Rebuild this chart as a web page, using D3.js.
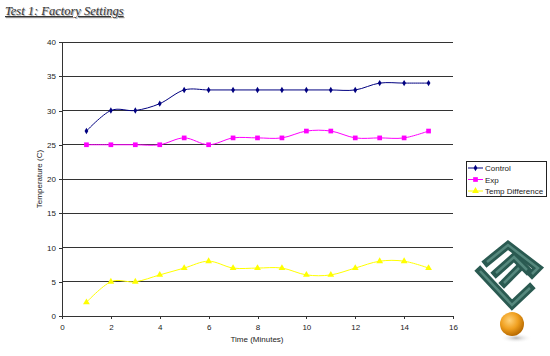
<!DOCTYPE html>
<html><head><meta charset="utf-8">
<script src="https://cdn.jsdelivr.net/npm/d3@7"></script>
<style>body{margin:0;background:#fff}svg{display:block}text{font-family:"Liberation Sans",Arial,sans-serif}</style>
</head><body>
<svg id="c" width="550" height="356"></svg>
<script>
const minutes = [1,2,3,4,5,6,7,8,9,10,11,12,13,14,15];
const control = [27,30,30,31,33,33,33,33,33,33,33,33,34,34,34];
const exp = [25,25,25,25,26,25,26,26,26,27,27,26,26,26,27];
const tempDiff = [2,5,5,6,7,8,7,7,7,6,6,7,8,8,7];
const seriesNames = ["Control","Exp","Temp Difference"];
const xTicks = [0,2,4,6,8,10,12,14,16];
const yTicks = [0,5,10,15,20,25,30,35,40];

const svg = d3.select("#c");
const x = d3.scaleLinear().domain([0,16]).range([62,453]);
const y = d3.scaleLinear().domain([0,40]).range([316,42]);

// title
const title = "Test 1: Factory Settings";
svg.append("text").attr("x",6).attr("y",16).attr("fill","#b0b0b0")
  .style("font-family","'Liberation Serif','Times New Roman',serif").style("font-style","italic").style("font-size","12.5px")
  .style("text-decoration","underline").text(title);
svg.append("text").attr("x",5).attr("y",15).attr("fill","#333")
  .style("font-family","'Liberation Serif','Times New Roman',serif").style("font-style","italic").style("font-size","12.5px")
  .style("text-decoration","underline").text(title);

// gridlines
svg.append("g").selectAll("line").data(yTicks.filter(d=>d>0)).join("line")
  .attr("x1",62).attr("x2",453).attr("y1",d=>y(d)).attr("y2",d=>y(d))
  .attr("stroke","#333").attr("stroke-width",1).attr("shape-rendering","crispEdges");

// axes
const yAxis = d3.axisLeft(y).tickValues(yTicks).tickSize(3).tickPadding(3);
const gy = svg.append("g").attr("transform","translate(62,0)").call(yAxis);
const xAxis = d3.axisBottom(x).tickValues(xTicks).tickSize(3).tickPadding(5);
const gx = svg.append("g").attr("transform","translate(0,316)").call(xAxis);
[gy,gx].forEach(g=>{
  g.selectAll("path,line").attr("stroke","#333").attr("shape-rendering","crispEdges");
  g.selectAll("path").attr("d", g===gy ? "M0,42V316" : "M62,0H453");
  g.selectAll("text").style("font-size","8px").attr("fill","#222").style("font-family","'Liberation Sans',Arial,sans-serif");
});

svg.append("text").attr("transform","translate(42,179) rotate(-90)").attr("text-anchor","middle")
  .style("font-size","8px").attr("fill","#222").text("Temperature (C)");
svg.append("text").attr("x",257).attr("y",342).attr("text-anchor","middle")
  .style("font-size","8px").attr("fill","#222").text("Time (Minutes)");

const series = [
  {name:seriesNames[0], vals:control, color:"#000080", sym:d3.symbolDiamond, size:12},
  {name:seriesNames[1], vals:exp, color:"#FF00FF", sym:d3.symbolSquare, size:22},
  {name:seriesNames[2], vals:tempDiff, color:"#FFFF00", sym:d3.symbolTriangle, size:20}
];
const line = d3.line().x((d,i)=>x(minutes[i])).y(d=>y(d)).curve(d3.curveCatmullRom.alpha(0));
series.forEach(s=>{
  svg.append("path").attr("d",line(s.vals)).attr("fill","none").attr("stroke",s.color).attr("stroke-width",1);
  svg.append("g").selectAll("path").data(s.vals).join("path")
    .attr("transform",(d,i)=>`translate(${x(minutes[i])},${y(d)})`)
    .attr("d",d3.symbol(s.sym,s.size)).attr("fill",s.color);
});

// legend
const lg = svg.append("g");
lg.append("rect").attr("x",466.5).attr("y",161.5).attr("width",80).attr("height",35)
  .attr("fill","#fff").attr("stroke","#222").attr("stroke-width",1);
series.forEach((s,i)=>{
  const ly = 168 + i*11.5;
  lg.append("line").attr("x1",468).attr("x2",483).attr("y1",ly).attr("y2",ly).attr("stroke",s.color);
  lg.append("path").attr("transform",`translate(475.5,${ly})`).attr("d",d3.symbol(s.sym,s.size)).attr("fill",s.color);
  lg.append("text").attr("x",485).attr("y",ly+3).style("font-size","8px").attr("fill","#222").text(s.name);
});

// logo
const defs = svg.append("defs");
const rg = defs.append("radialGradient").attr("id","ball").attr("cx","40%").attr("cy","35%").attr("r","65%");
rg.append("stop").attr("offset","0%").attr("stop-color","#ffd27a");
rg.append("stop").attr("offset","55%").attr("stop-color","#f0a020");
rg.append("stop").attr("offset","100%").attr("stop-color","#b86a00");
const sg = defs.append("radialGradient").attr("id","shad");
sg.append("stop").attr("offset","0%").attr("stop-color","#999").attr("stop-opacity",0.7);
sg.append("stop").attr("offset","100%").attr("stop-color","#fff").attr("stop-opacity",0);
const logo = svg.append("g");
logo.append("ellipse").attr("cx",516).attr("cy",338).attr("rx",16).attr("ry",5).attr("fill","url(#shad)");
logo.append("circle").attr("cx",512).attr("cy",324).attr("r",12).attr("fill","url(#ball)");
const strokes = [
  "M480,271 L512,305 L530,288",
  "M487,262 L508,245 L538,268 L532,274",
  "M496,273 L514,257 L527,270",
  "M504,283 L519,268"
];
strokes.forEach(d=>{
  logo.append("path").attr("d",d).attr("fill","none").attr("stroke","#2a5a51").attr("stroke-width",8).attr("stroke-linejoin","miter").attr("stroke-linecap","square");
});
strokes.forEach(d=>{
  logo.append("path").attr("d",d).attr("fill","none").attr("stroke","#55887d").attr("stroke-width",2.5).attr("stroke-linejoin","miter");
});
</script>
</body></html>
